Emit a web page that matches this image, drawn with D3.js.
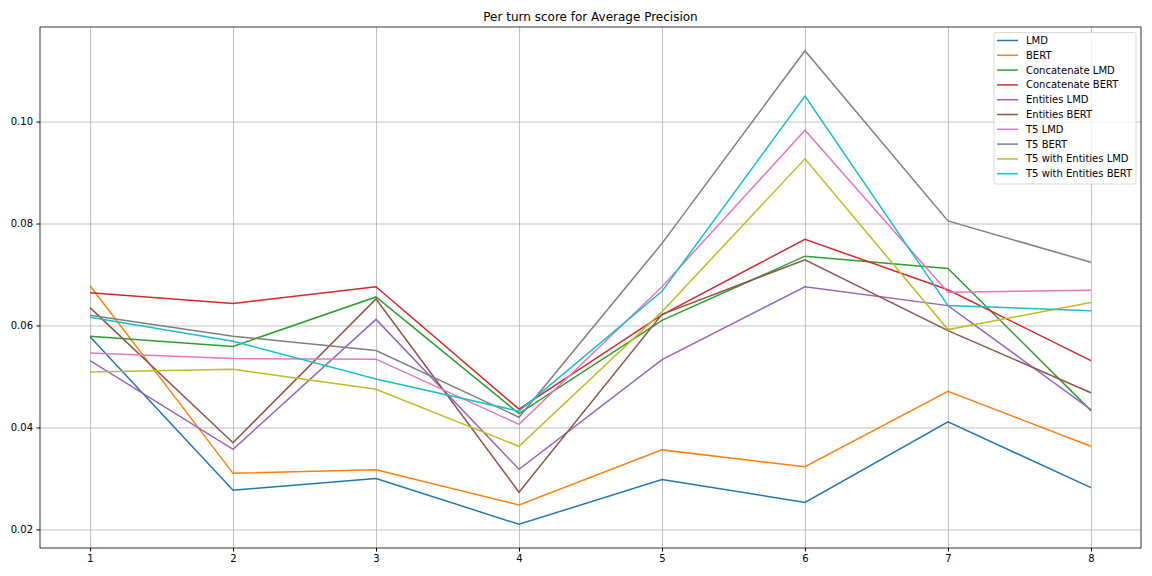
<!DOCTYPE html>
<html>
<head>
<meta charset="utf-8">
<script src="https://cdn.jsdelivr.net/npm/d3@7"></script>
<style>
  body { margin: 0; background: #fff; }
  svg { display: block; font-family: "DejaVu Sans", sans-serif; }
</style>
</head>
<body>
<svg id="js-svg" width="1152" height="576"></svg>
<script>
const turns = [1, 2, 3, 4, 5, 6, 7, 8];
const seriesNames = [
  "LMD", "BERT", "Concatenate LMD", "Concatenate BERT", "Entities LMD",
  "Entities BERT", "T5 LMD", "T5 BERT", "T5 with Entities LMD", "T5 with Entities BERT"
];
const lmd = [0.0578, 0.0277, 0.0300, 0.0210, 0.0298, 0.0253, 0.0411, 0.0282];
const bert = [0.0678, 0.0310, 0.0317, 0.0248, 0.0356, 0.0323, 0.0471, 0.0363];
const concatLmd = [0.0579, 0.0559, 0.0656, 0.0427, 0.0610, 0.0736, 0.0712, 0.0433];
const concatBert = [0.0664, 0.0643, 0.0676, 0.0436, 0.0621, 0.0769, 0.0670, 0.0531];
const entitiesLmd = [0.0531, 0.0357, 0.0612, 0.0318, 0.0533, 0.0676, 0.0639, 0.0435];
const entitiesBert = [0.0635, 0.0370, 0.0652, 0.0273, 0.0622, 0.0729, 0.0590, 0.0468];
const t5Lmd = [0.0546, 0.0535, 0.0534, 0.0406, 0.0676, 0.0983, 0.0665, 0.0669];
const t5Bert = [0.0620, 0.0579, 0.0551, 0.0420, 0.0761, 0.1139, 0.0805, 0.0724];
const t5EntLmd = [0.0509, 0.0514, 0.0475, 0.0363, 0.0627, 0.0927, 0.0592, 0.0645];
const t5EntBert = [0.0616, 0.0569, 0.0495, 0.0432, 0.0667, 0.1050, 0.0639, 0.0629];
const yTicks = [0.02, 0.04, 0.06, 0.08, 0.10];

const allSeries = [lmd, bert, concatLmd, concatBert, entitiesLmd,
  entitiesBert, t5Lmd, t5Bert, t5EntLmd, t5EntBert];
const colors = d3.schemeCategory10;

const margin = { top: 27, right: 11, bottom: 28, left: 40 };
const width = 1152, height = 576;
const svg = d3.select("#js-svg");

// matplotlib default 5% margins
const xMin = d3.min(turns), xMax = d3.max(turns);
const xPad = (xMax - xMin) * 0.05;
const x = d3.scaleLinear()
  .domain([xMin - xPad, xMax + xPad])
  .range([margin.left, width - margin.right]);

const yMin = d3.min(allSeries.flat()), yMax = d3.max(allSeries.flat());
const yPad = (yMax - yMin) * 0.05;
const y = d3.scaleLinear()
  .domain([yMin - yPad, yMax + yPad])
  .range([height - margin.bottom, margin.top]);

// grid
svg.append("g")
  .attr("transform", `translate(0,${height - margin.bottom})`)
  .call(d3.axisBottom(x).tickValues(turns).tickSize(-(height - margin.top - margin.bottom)).tickFormat(""))
  .call(g => g.select(".domain").remove())
  .call(g => g.selectAll("line").attr("stroke", "#b0b0b0").attr("stroke-width", 0.8));
svg.append("g")
  .attr("transform", `translate(${margin.left},0)`)
  .call(d3.axisLeft(y).tickValues(yTicks).tickSize(-(width - margin.left - margin.right)).tickFormat(""))
  .call(g => g.select(".domain").remove())
  .call(g => g.selectAll("line").attr("stroke", "#b0b0b0").attr("stroke-width", 0.8));

// lines
const line = d3.line().x((d, i) => x(turns[i])).y(d => y(d));
allSeries.forEach((s, i) => {
  svg.append("path")
    .datum(s)
    .attr("d", line)
    .attr("fill", "none")
    .attr("stroke", colors[i])
    .attr("stroke-width", 1.5);
});

// axes
svg.append("g")
  .attr("transform", `translate(0,${height - margin.bottom})`)
  .call(d3.axisBottom(x).tickValues(turns).tickSize(3.5).tickPadding(3.5).tickFormat(d3.format("d")))
  .call(g => g.select(".domain").remove())
  .call(g => g.selectAll("text").attr("font-size", 10).attr("fill", "#000").attr("font-family", "DejaVu Sans"));
svg.append("g")
  .attr("transform", `translate(${margin.left},0)`)
  .call(d3.axisLeft(y).tickValues(yTicks).tickSize(3.5).tickPadding(3.5).tickFormat(d3.format(".2f")))
  .call(g => g.select(".domain").remove())
  .call(g => g.selectAll("text").attr("font-size", 10).attr("fill", "#000").attr("font-family", "DejaVu Sans"));

svg.append("rect")
  .attr("x", margin.left)
  .attr("y", margin.top)
  .attr("width", width - margin.left - margin.right)
  .attr("height", height - margin.top - margin.bottom)
  .attr("fill", "none")
  .attr("stroke", "#000")
  .attr("stroke-width", 0.8);

// title
svg.append("text")
  .attr("x", (margin.left + width - margin.right) / 2)
  .attr("y", margin.top - 6)
  .attr("text-anchor", "middle")
  .attr("font-size", 12)
  .text("Per turn score for Average Precision");

// legend
const legend = svg.append("g").attr("transform", "translate(994,32.5)");
legend.append("rect")
  .attr("width", 142)
  .attr("height", 151.5)
  .attr("rx", 2)
  .attr("fill", "#fff")
  .attr("fill-opacity", 0.8)
  .attr("stroke", "#d0d0d0")
  .attr("stroke-width", 0.8);
seriesNames.forEach((name, i) => {
  const row = legend.append("g").attr("transform", `translate(0,${8 + i * 14.8})`);
  row.append("line")
    .attr("x1", 3).attr("x2", 24)
    .attr("stroke", colors[i])
    .attr("stroke-width", 1.5);
  row.append("text")
    .attr("x", 32)
    .attr("dy", "0.35em")
    .attr("font-size", 10)
    .text(name);
});
</script>
</body>
</html>
